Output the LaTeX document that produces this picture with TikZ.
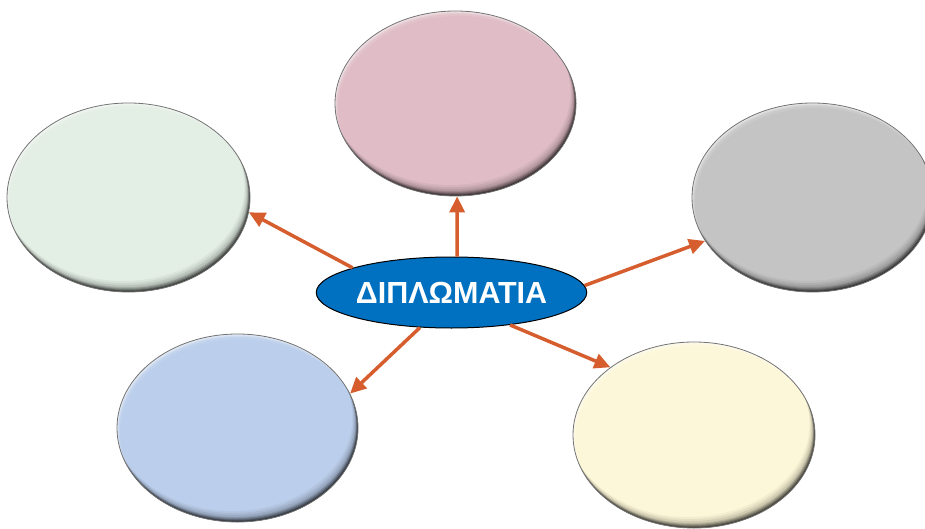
\documentclass[tikz,border=0pt]{standalone}
\usepackage{fontspec}
\setmainfont{Liberation Sans}
\usetikzlibrary{shapes.geometric,arrows.meta}
\definecolor{arrc}{RGB}{214,94,46}
\definecolor{cblue}{RGB}{0,112,192}
\definecolor{cpink}{RGB}{223,188,198}
\definecolor{cgreen}{RGB}{227,238,228}
\definecolor{cgray}{RGB}{196,196,196}
\definecolor{cltblue}{RGB}{187,206,235}
\definecolor{cyellow}{RGB}{253,247,217}
\tikzset{
  bubble/.style n args={3}{ellipse, inner sep=0pt, minimum width=#2pt, minimum height=#3pt,
    fill=#1, draw=black!55, line width=0.8pt,
    path picture={
      \coordinate (pc) at (path picture bounding box.center);
      \foreach \d/\o in {1/0.32,2/0.24,3/0.18,4/0.14,5/0.11,7/0.08,9/0.06,11/0.04} {
        \fill[black,opacity=\o,even odd rule]
          ([shift={(-300pt,-300pt)}]pc) rectangle ([shift={(300pt,300pt)}]pc)
          ([xshift=-0.5*\d pt,yshift=\d pt]pc) ellipse [x radius=#2pt/2, y radius=#3pt/2];
      }
      \foreach \d/\o in {1/0.35,2/0.25,3/0.15,5/0.1} {
        \fill[white,opacity=\o,even odd rule]
          ([shift={(-300pt,-300pt)}]pc) rectangle ([shift={(300pt,300pt)}]pc)
          ([xshift=0.6*\d pt,yshift=-\d pt]pc) ellipse [x radius=#2pt/2, y radius=#3pt/2];
      }
    }},
  hub/.style={ellipse, inner sep=0pt, minimum width=263pt, minimum height=71pt,
    fill=cblue, draw=black, line width=1pt, text=white,
    font=\bfseries\fontsize{30.5}{36}\selectfont},
  arrowsty/.style={draw=arrc, line width=3.5pt, -{Triangle[length=16pt,width=15pt]}}
}
\begin{document}
\begin{tikzpicture}[x=1pt,y=-1pt]
\useasboundingbox (0,0) rectangle (925,529);
\node[bubble={cpink}{241}{185}] (top) at (455.5,103.5) {};
\node[bubble={cgreen}{243}{189}] (left) at (128.5,197.5) {};
\node[bubble={cgray}{241}{189}] (right) at (812.5,197.5) {};
\node[bubble={cltblue}{241}{188}] (bl) at (237.5,428) {};
\node[bubble={cyellow}{242}{186}] (br) at (694,435) {};
\node[hub] (c) at (451.5,292.5) {ΔΙΠΛΩΜΑΤΙΑ};
\draw[arrowsty] (c.81) -- (top.271);
\draw[arrowsty] (c.166) -- (left.-7.6);
\draw[arrowsty] (c.3) -- (right.202);
\draw[arrowsty] (c.228) -- (bl.17.7);
\draw[arrowsty] (c.-29) -- (br.141);
\end{tikzpicture}
\end{document}
